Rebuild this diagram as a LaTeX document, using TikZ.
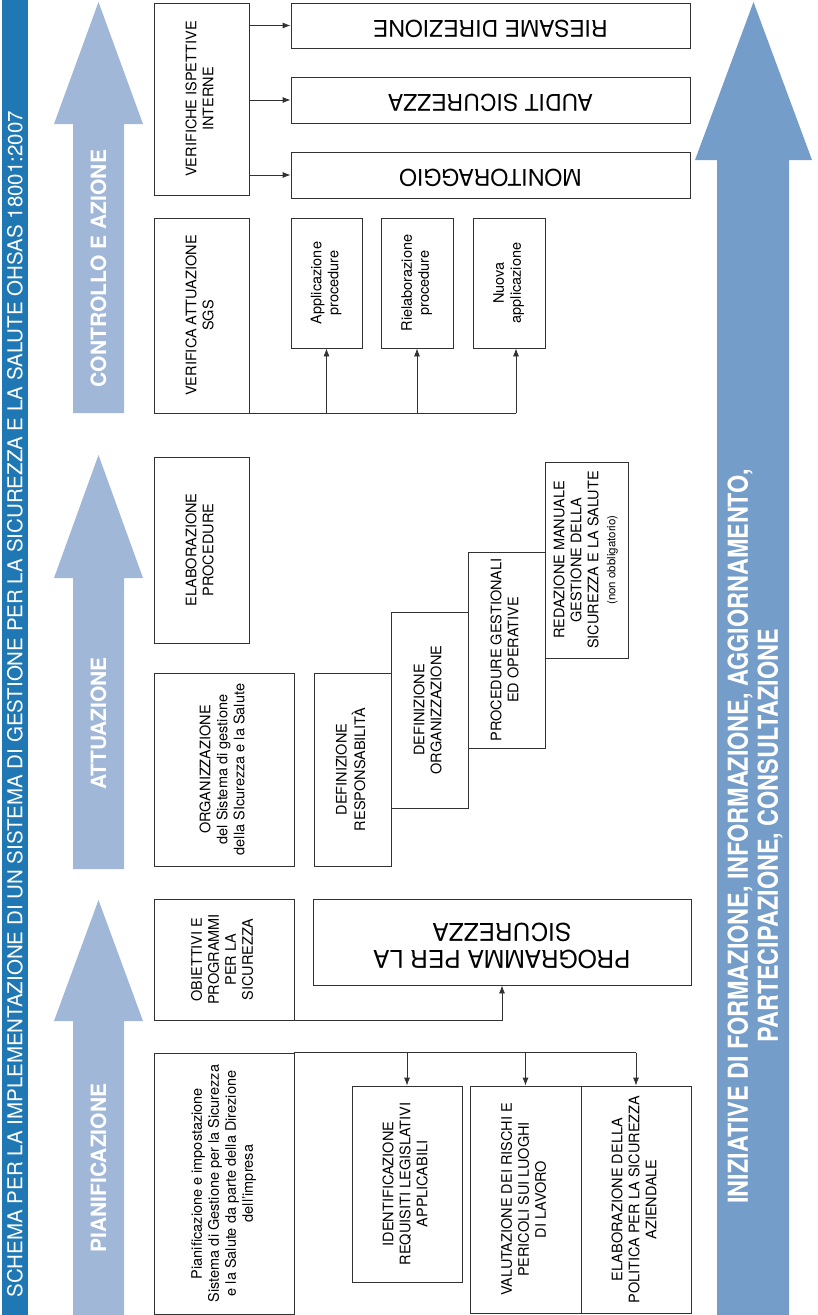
\documentclass[tikz,border=0pt]{standalone}
\usepackage{fontspec}
\usepackage{graphicx}
\setmainfont{TeX Gyre Heros}
\newfontfamily\condfont[FakeStretch=0.85]{TeX Gyre Heros}
\usetikzlibrary{arrows.meta,positioning,calc}
\definecolor{titleblue}{RGB}{31,120,180}
\definecolor{phaseblue}{RGB}{161,183,216}
\definecolor{trainblue}{RGB}{116,157,201}
\definecolor{boxline}{RGB}{50,50,50}
\newcommand{\vtxt}[1]{\rotatebox{90}{\begin{tabular}{@{}c@{}}#1\end{tabular}}}
\newcommand{\utxt}[1]{\rotatebox{180}{\begin{tabular}{@{}c@{}}#1\end{tabular}}}

\begin{document}
\begin{tikzpicture}[x=1pt,y=-1pt,
        box/.style={draw=boxline, line width=0.8pt, inner sep=0pt, font=\fontsize{14.5}{17}\selectfont},
        sz/.style 2 args={minimum width=#1pt, minimum height=#2pt},
        flipbox/.style={box, font=\fontsize{23}{26}\selectfont},
        link/.style={draw=boxline, line width=0.8pt},
        arr/.style={link, -{Latex[length=8pt,width=6pt]}},
        phase/.style={fill=phaseblue},
        phaselab/.style={rotate=90, text=white, font=\fontsize{21}{24}\selectfont\bfseries}]
  \useasboundingbox (0,0) rectangle (817,1315);

  % title band
  \fill[titleblue] (2,0) rectangle (28,1315);
  \node[rotate=90, anchor=west, text=white, font=\fontsize{20.5}{24}\selectfont] (title) at (15,1301)
    {SCHEMA PER LA IMPLEMENTAZIONE DI UN SISTEMA DI GESTIONE PER LA SICUREZZA E LA SALUTE OHSAS 18001:2007};

  % phase arrows
  \foreach \tip/\base/\bot/\lab/\nm in {2/124/413/{CONTROLLO E AZIONE}/ctrl,
      455/578/869/ATTUAZIONE/att, 900/1021/1315/PIANIFICAZIONE/pian}{
    \fill[phase] (73,\bot) -- (73,\base) -- (54,\base) -- (98.5,\tip) -- (143,\base)
      -- (124,\base) -- (124,\bot) -- cycle;
    \node[phaselab] (\nm) at (98.5,{(\base+\bot)/2}) {\lab};
  }

  % training arrow
  \fill[trainblue] (717,1315) -- (717,160) -- (695,160) -- (753.5,2) -- (812,160)
    -- (789,160) -- (789,1315) -- cycle;
  \node[rotate=90, text=white, align=center, font=\condfont\bfseries\fontsize{27.5}{30}\selectfont] (train) at (755,836)
    {INIZIATIVE DI FORMAZIONE, INFORMAZIONE, AGGIORNAMENTO,\\PARTECIPAZIONE, CONSULTAZIONE};

  % controllo e azione
  \node[box, sz={95}{192}] (vii) at (201.5,99) {\vtxt{VERIFICHE ISPETTIVE\\INTERNE}};
  \node[flipbox, sz={399}{45}] (ries) at (490.5,25.5) {\utxt{RIESAME DIREZIONE}};
  \node[flipbox, sz={399}{46}] (aud) at (490.5,100) {\utxt{AUDIT SICUREZZA}};
  \node[flipbox, sz={399}{46}] (mon) at (490.5,175) {\utxt{MONITORAGGIO}};
  \node[box, sz={95}{195}] (vas) at (201.5,315.5) {\vtxt{VERIFICA ATTUAZIONE\\SGS}};
  \node[box, sz={71}{130}] (app) at (326.5,283) {\vtxt{Applicazione\\procedure}};
  \node[box, sz={72}{130}] (riel) at (417,283) {\vtxt{Rielaborazione\\procedure}};
  \node[box, sz={72}{130}] (nuo) at (509,283) {\vtxt{Nuova\\applicazione}};
  \coordinate (nuoin) at ($(nuo.south)+(7,0)$);

  \foreach \t in {ries,aud,mon}
    \draw[arr] (vii.east |- \t.west) -- (\t.west);
  \draw[link] (vas.south east) -- (nuoin |- vas.south east);
  \draw[arr] (vas.south east -| app.south) -- (app.south);
  \draw[arr] (vas.south east -| riel.south) -- (riel.south);
  \draw[arr] (vas.south east -| nuoin) -- (nuoin);

  % attuazione
  \node[box, sz={95}{186}] (elp) at (201.5,550) {\vtxt{ELABORAZIONE\\PROCEDURE}};
  \node[box, sz={140}{193}] (org) at (224,769.5) {\vtxt{ORGANIZZAZIONE\\del Sistema di gestione\\della SIcurezza e la Salute}};
  \node[box, sz={77}{193}] (dres) at (352.5,769.5) {\vtxt{DEFINIZIONE\\RESPONSABILITÀ}};
  \node[box, sz={77}{196}] (dorg) at (429.5,710) {\vtxt{DEFINIZIONE\\ORGANIZZAZIONE}};
  \node[box, sz={77}{196}] (proc) at (506.5,650) {\vtxt{PROCEDURE GESTIONALI\\ED OPERATIVE}};
  \node[box, sz={83}{196}] (red) at (586.5,560) {\vtxt{REDAZIONE MANUALE\\GESTIONE DELLA\\SICUREZZA E LA SALUTE\\{\fontsize{11.5}{13}\selectfont(non obbligatorio)}}};

  % pianificazione
  \node[box, sz={140}{121}] (obi) at (224,959.5) {\vtxt{OBIETTIVI E\\PROGRAMMI\\PER LA\\SICUREZZA}};
  \node[box, sz={378}{86}, font=\fontsize{24.5}{27}\selectfont] (prog) at (502,942) {\utxt{PROGRAMMA PER LA\\SICUREZZA}};
  \node[box, sz={140}{261}] (pia) at (224,1183.5) {\vtxt{Pianificazione e impostazione\\Sistema di Gestione per la Sicurezza\\e la Salute da parte della Direzione\\dell’impresa}};
  \node[box, sz={110}{196}] (iden) at (407,1184) {\vtxt{IDENTIFICAZIONE\\REQUISITI LEGISLATIVI\\APPLICABILI}};
  \node[box, sz={111}{227}] (valu) at (525.5,1199.5) {\vtxt{VALUTAZIONE DEI RISCHI E\\PERICOLI SUI LUOGHI\\DI LAVORO}};
  \node[box, sz={110}{227}] (epol) at (636,1199.5) {\vtxt{ELABORAZIONE DELLA\\POLITICA PER LA SICUREZZA\\AZIENDALE}};

  \draw[arr] (obi.south east) -| (prog.south);
  \draw[link] (pia.north east) -- (pia.north east -| epol.north);
  \foreach \t in {iden,valu,epol}
    \draw[arr] (pia.north east -| \t.north) -- (\t.north);
\end{tikzpicture}
\end{document}
